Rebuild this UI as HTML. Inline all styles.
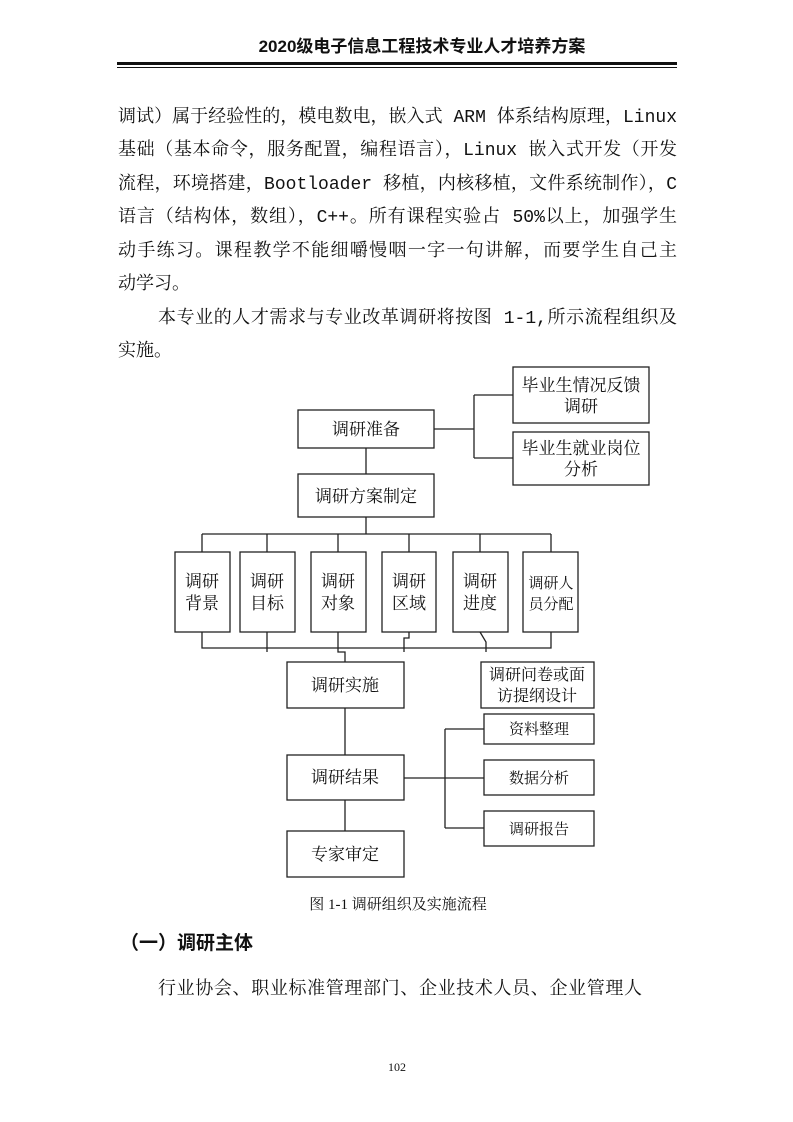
<!DOCTYPE html>
<html><head><meta charset="utf-8">
<style>
body{margin:0;background:#fff;}
#p{position:relative;width:793px;height:1122px;overflow:hidden;font-family:"Liberation Serif","Noto Serif CJK SC",serif;color:#111;}
.l{position:absolute;left:118px;width:559px;font-family:"Liberation Mono","Noto Serif CJK SC",monospace;font-size:18px;line-height:24px;text-align:justify;text-align-last:justify;}
.n{text-align-last:auto;}
.a{position:absolute;}
</style></head><body><div id="p">
<div class="a" style="left:117px;top:36px;width:560px;text-align:center;font-family:'Liberation Sans','Noto Sans CJK SC',sans-serif;font-weight:bold;font-size:17px;line-height:22px;padding-left:50px;box-sizing:border-box;">2020级电子信息工程技术专业人才培养方案</div>
<div class="a" style="left:117px;top:62px;width:560px;height:3px;background:#111"></div>
<div class="a" style="left:117px;top:67px;width:560px;height:1px;background:#111"></div>

<div class="l" style="top:106px">调试）属于经验性的，模电数电，嵌入式 ARM 体系结构原理，Linux</div>
<div class="l" style="top:139px">基础（基本命令，服务配置，编程语言），Linux 嵌入式开发（开发</div>
<div class="l" style="top:173px">流程，环境搭建，Bootloader 移植，内核移植，文件系统制作），C</div>
<div class="l" style="top:206px">语言（结构体，数组），C++。所有课程实验占 50%以上，加强学生</div>
<div class="l" style="top:240px">动手练习。课程教学不能细嚼慢咽一字一句讲解，而要学生自己主</div>
<div class="l n" style="top:273px">动学习。</div>
<div class="l" style="top:307px;left:158px;width:519px">本专业的人才需求与专业改革调研将按图 1-1,所示流程组织及</div>
<div class="l n" style="top:340px">实施。</div>

<svg class="a" style="left:0;top:0" width="793" height="1122" font-family="Liberation Serif,Noto Serif CJK SC,serif" font-size="17" fill="#111">
<g stroke="#222" stroke-width="1.3" fill="none">
<rect x="298" y="410" width="136" height="38"/>
<rect x="513" y="367" width="136" height="56"/>
<rect x="513" y="432" width="136" height="53"/>
<path d="M434 429H474M474 395V458M474 395H513M474 458H513"/>
<rect x="298" y="474" width="136" height="43"/>
<path d="M366 448V474M366 517V534M202 534H551"/>
<rect x="175" y="552" width="55" height="80"/>
<rect x="240" y="552" width="55" height="80"/>
<rect x="311" y="552" width="55" height="80"/>
<rect x="382" y="552" width="54" height="80"/>
<rect x="453" y="552" width="55" height="80"/>
<rect x="523" y="552" width="55" height="80"/>
<path d="M202 534V552M267 534V552M338 534V552M409 534V552M480 534V552M551 534V552"/>
<path d="M202 632V648H551V632M267 632V652M338 632V652H345V662M409 632V638H404V652M480 632L486 642V652"/>
<rect x="287" y="662" width="117" height="46"/>
<rect x="481" y="662" width="113" height="46"/>
<path d="M345 708V755M345 800V831M404 778H484M445 729V828M445 729H484M445 828H484"/>
<rect x="287" y="755" width="117" height="45"/>
<rect x="287" y="831" width="117" height="46"/>
<rect x="484" y="714" width="110" height="30"/>
<rect x="484" y="760" width="110" height="35"/>
<rect x="484" y="811" width="110" height="35"/>
</g>
<g text-anchor="middle">
<text x="366" y="435">调研准备</text>
<text x="581" y="391">毕业生情况反馈</text><text x="581" y="412">调研</text>
<text x="581" y="454">毕业生就业岗位</text><text x="581" y="475">分析</text>
<text x="366" y="502">调研方案制定</text>
<text x="202" y="587">调研</text><text x="202" y="609">背景</text>
<text x="267" y="587">调研</text><text x="267" y="609">目标</text>
<text x="338" y="587">调研</text><text x="338" y="609">对象</text>
<text x="409" y="587">调研</text><text x="409" y="609">区域</text>
<text x="480" y="587">调研</text><text x="480" y="609">进度</text>
<text x="551" y="588" font-size="15">调研人</text><text x="551" y="609" font-size="15">员分配</text>
<text x="345" y="691">调研实施</text>
<text x="537" y="680" font-size="16">调研问卷或面</text><text x="537" y="701" font-size="16">访提纲设计</text>
<text x="345" y="783">调研结果</text>
<text x="345" y="860">专家审定</text>
<text x="539" y="734" font-size="15">资料整理</text>
<text x="539" y="783" font-size="15">数据分析</text>
<text x="539" y="834" font-size="15">调研报告</text>
<text x="398" y="909" font-size="15">图 1-1  调研组织及实施流程</text>
</g>
</svg>

<div class="a" style="left:120px;top:932px;font-size:19px;font-weight:bold;font-family:'Liberation Sans','Noto Sans CJK SC',sans-serif;line-height:24px;">（一）调研主体</div>
<div class="l" style="top:978px;left:158px;width:484px">行业协会、职业标准管理部门、企业技术人员、企业管理人</div>
<div class="a" style="left:380px;top:1060px;width:34px;text-align:center;font-size:12px;">102</div>
</div></body></html>
